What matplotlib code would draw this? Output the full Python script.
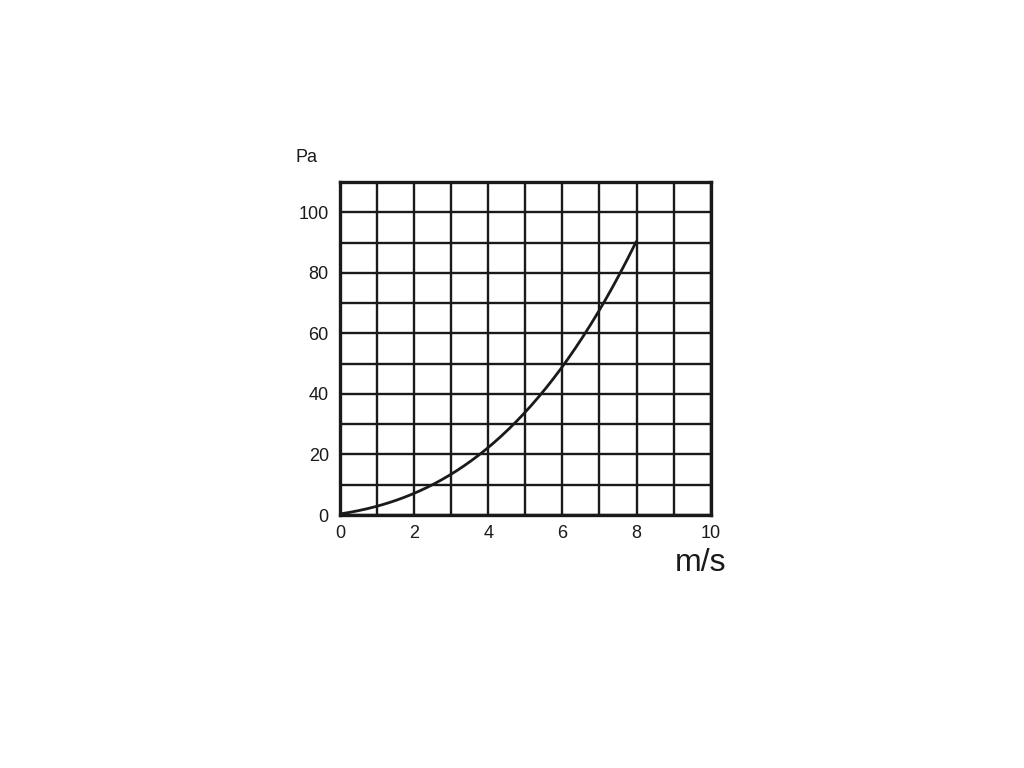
import matplotlib
matplotlib.use("Agg")
import matplotlib.pyplot as plt
import numpy as np

plt.rcParams['font.family'] = ['Liberation Sans', 'DejaVu Sans']

speed = [0, 1, 2, 3, 4, 5, 6, 7, 8]
pressure = [0, 3.3, 7.6, 13.6, 21.5, 33.5, 49.5, 68.5, 90]
x_ticks = [0, 2, 4, 6, 8, 10]
y_ticks = [0, 20, 40, 60, 80, 100]

fig = plt.figure(figsize=(10.24, 7.68), dpi=100)
ax = fig.add_axes([0.332, 0.3294, 0.362, 0.4336])

# smooth curve through read points
xs = np.linspace(0, 8, 200)
coef = np.polyfit(speed, pressure, 3)
ys = np.polyval(coef, xs)
ax.plot(xs, ys, color='#1a1a1a', lw=2.0, solid_capstyle='butt', zorder=3)

ax.set_xlim(0, 10)
ax.set_ylim(0, 110)
ax.set_xticks(np.arange(0, 11, 1), minor=True)
ax.set_yticks(np.arange(0, 111, 10), minor=True)
ax.set_xticks(x_ticks)
ax.set_yticks(y_ticks)
ax.grid(which='both', color='#1a1a1a', lw=1.7)
ax.tick_params(which='both', length=0, labelsize=13, colors='#1a1a1a')
ax.tick_params(axis='x', pad=7)
ax.tick_params(axis='y', pad=8)
for s in ax.spines.values():
    s.set_linewidth(2.4)
    s.set_color('#1a1a1a')

fig.text(0.2998, 0.795, 'Pa', fontsize=13, color='#1a1a1a', ha='center', va='center')
fig.text(0.6846, 0.267, 'm/s', fontsize=23, color='#1a1a1a', ha='center', va='center')

fig.savefig('out.png', dpi=100)
